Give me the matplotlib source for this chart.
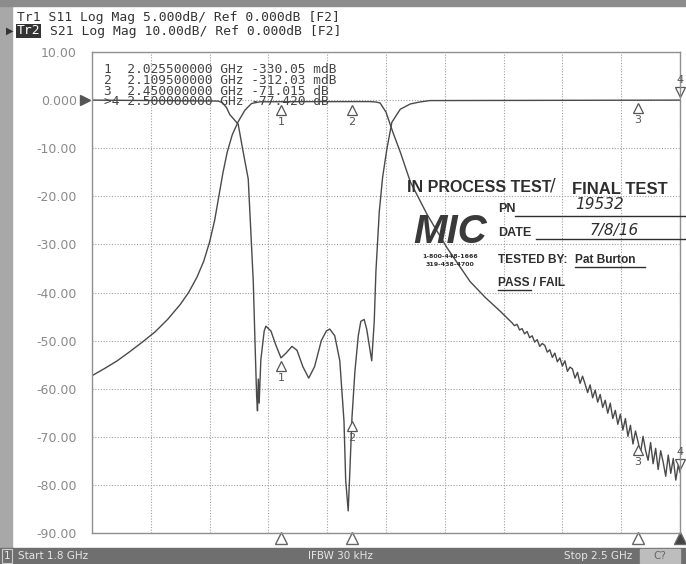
import numpy as np
import matplotlib.pyplot as plt
from matplotlib.patches import Rectangle
from matplotlib.transforms import offset_copy, blended_transform_factory

# S21 (Tr2, 10 dB/div) frequency in GHz, magnitude in dB
freq_s21 = [1.800, 1.815, 1.830, 1.845, 1.860, 1.875, 1.890, 1.905, 1.915, 1.925,
            1.933, 1.940, 1.946, 1.951, 1.956, 1.961, 1.967, 1.974, 1.982, 1.990,
            2.000, 2.060, 2.131, 2.138, 2.143, 2.150, 2.158, 2.167, 2.179, 2.199,
            2.223, 2.250, 2.268, 2.286,
            2.300, 2.303, 2.306, 2.309, 2.312, 2.315, 2.318, 2.321, 2.324, 2.327,
            2.330, 2.333, 2.336, 2.339, 2.342, 2.345, 2.348, 2.351, 2.354, 2.357,
            2.360, 2.363, 2.366, 2.369, 2.372, 2.375, 2.378, 2.381, 2.384, 2.387,
            2.390, 2.393, 2.396, 2.399, 2.402, 2.405, 2.408, 2.411, 2.414, 2.417,
            2.420, 2.423, 2.426, 2.429, 2.432, 2.435, 2.438, 2.441, 2.444, 2.447,
            2.450, 2.453, 2.456, 2.459, 2.462, 2.465, 2.468, 2.471, 2.474, 2.477,
            2.480, 2.483, 2.486, 2.489, 2.492, 2.495, 2.498, 2.500]
s21_db = [-57.3, -55.8, -54.2, -52.3, -50.3, -48.2, -45.6, -42.5, -40.0, -36.8,
          -33.5, -29.5, -25.0, -20.0, -15.0, -10.8, -7.2, -4.5, -2.1, -0.7,
          -0.35, -0.32, -0.31, -0.4, -0.6, -2.5, -6.6, -10.8, -17.0, -23.8,
          -30.8, -37.7, -41.0, -43.9,
          -46.3, -46.9, -46.6, -47.8, -47.5, -48.6, -48.1, -49.4, -49.0, -50.3,
          -49.8, -51.2, -50.6, -51.0, -52.4, -51.9, -53.5, -52.6, -54.4, -53.6,
          -55.3, -54.2, -56.4, -55.5, -55.9, -57.8, -56.6, -58.9, -57.4, -59.0,
          -60.8, -59.2, -61.9, -60.3, -62.8, -61.2, -63.9, -62.4, -65.1, -63.0,
          -66.2, -64.5, -67.4, -65.3, -68.6, -66.2, -69.9, -67.6, -71.5, -68.8,
          -71.0, -73.4, -69.9, -72.8, -74.9, -71.2, -75.6, -72.4, -76.8, -72.9,
          -75.3, -78.2, -73.8, -77.6, -74.5, -79.0, -75.8, -77.4]

# S11 (Tr1, 5 dB/div) frequency in GHz, magnitude in dB
freq_s11 = [1.800, 1.950, 1.955, 1.960, 1.964, 1.974, 1.980, 1.986, 1.989, 1.992,
            1.994, 1.996, 1.997, 1.998, 1.999, 2.001, 2.005, 2.007, 2.013, 2.019,
            2.025, 2.031, 2.038, 2.044, 2.051, 2.058, 2.065, 2.073, 2.079, 2.083,
            2.089, 2.095, 2.100, 2.102, 2.105, 2.107, 2.1095, 2.113, 2.117, 2.120,
            2.124, 2.127, 2.131, 2.133, 2.136, 2.138, 2.142, 2.146, 2.151, 2.157,
            2.167, 2.179, 2.190, 2.202, 2.500]
s11_db = [0.0, -0.1, -0.25, -0.75, -1.5, -2.5, -5.4, -8.2, -13.5, -18.9,
          -25.0, -30.8, -32.3, -29.0, -31.5, -27.0, -24.0, -23.5, -24.0, -25.5,
          -26.8, -26.3, -25.6, -26.0, -27.7, -28.9, -27.7, -25.0, -24.0, -23.8,
          -24.5, -27.1, -33.4, -39.5, -42.7, -38.5, -33.0, -28.2, -24.5, -23.0,
          -22.8, -23.8, -26.0, -27.1, -23.0, -17.8, -11.6, -8.0, -5.1, -2.3,
          -0.95, -0.4, -0.2, -0.05, 0.0]

marker_freq = [2.0255, 2.1095, 2.45, 2.5]
marker_s21 = [-0.33005, -0.31203, -71.015, -77.42]
marker_s11 = [-26.8, -33.0, 0.0, 0.0]
marker_rows = ["1  2.025500000 GHz -330.05 mdB",
               "2  2.109500000 GHz -312.03 mdB",
               "3  2.450000000 GHz -71.015 dB",
               ">4 2.500000000 GHz -77.420 dB"]

yticks = [10, 0, -10, -20, -30, -40, -50, -60, -70, -80, -90]
ytick_labels = ["10.00", "0.000", "-10.00", "-20.00", "-30.00", "-40.00",
                "-50.00", "-60.00", "-70.00", "-80.00", "-90.00"]

trace = "#4a4a4a"
W, H = 686, 564

fig = plt.figure(figsize=(6.86, 5.64), dpi=100)
ax = fig.add_axes([92 / W, 1 - 533 / H, 588 / W, 481 / H])

# S11 is on 5 dB/div, display it on the 10 dB/div graticule
s11_disp = np.array(s11_db) * 10.0 / 5.0
ax.plot(freq_s11, s11_disp, color=trace, lw=1.0)
ax.plot(freq_s21, s21_db, color=trace, lw=1.0)

ax.set_xlim(1.8, 2.5)
ax.set_ylim(-90, 10)
ax.set_xticks(np.linspace(1.8, 2.5, 11))
ax.set_xticklabels([])
ax.set_yticks(yticks)
ax.set_yticklabels(ytick_labels, fontsize=9, color="#8a8a8a")
ax.tick_params(length=0, pad=11)
ax.grid(True, color="#a0a0a0", ls=(0, (1, 1.5)), lw=0.8)
for s in ax.spines.values():
    s.set_color("#909090")
    s.set_linewidth(1.0)

# reference arrow at 0 dB
bt = blended_transform_factory(ax.transAxes, ax.transData)
ax.plot([-0.012], [0], marker=">", ms=7, color="#555555", transform=bt, clip_on=False)

# marker table (one block, tight line spacing like the analyzer screen)
fig.text(104 / W, 1 - 63 / H, "\n".join(marker_rows), family="DejaVu Sans Mono",
         fontsize=9.3, color="#444444", va="top", linespacing=0.78)

# trace markers
below = offset_copy(ax.transData, fig=fig, y=-6, units="points")
above = offset_copy(ax.transData, fig=fig, y=6, units="points")
for n, (f, a, b) in enumerate(zip(marker_freq, marker_s21, marker_s11)):
    for v in (a, b * 2):
        if n < 3:
            ax.plot([f], [v], marker="^", ms=7, mfc="white", mec="#555555",
                    mew=0.9, transform=below, clip_on=False)
            ax.annotate(str(n + 1), (f, v), xytext=(0, -11), textcoords="offset points",
                        ha="center", va="top", fontsize=8, color="#555555")
        else:
            ax.plot([f], [v], marker="v", ms=7, mfc="white", mec="#555555",
                    mew=0.9, transform=above, clip_on=False)
            ax.annotate(str(n + 1), (f, v), xytext=(0, 11), textcoords="offset points",
                        ha="center", va="bottom", fontsize=8, color="#555555")

# marker position triangles under the graticule
bx = blended_transform_factory(ax.transData, fig.transFigure)
for n, f in enumerate(marker_freq):
    ax.plot([f], [1 - 538 / H], marker="^", ms=9, transform=bx, clip_on=False,
            mfc="#444444" if n == 3 else "white", mec="#666666", mew=1.0)

# header
fig.text(17 / W, 1 - 17 / H, "Tr1 S11 Log Mag 5.000dB/ Ref 0.000dB [F2]",
         family="DejaVu Sans Mono", fontsize=9.4, color="#333333", va="center")
fig.text(17 / W, 1 - 31 / H, "Tr2", family="DejaVu Sans Mono", fontsize=9.4,
         color="white", va="center", bbox=dict(fc="#333333", ec="none", pad=0.5))
fig.text(50 / W, 1 - 31 / H, "S21 Log Mag 10.00dB/ Ref 0.000dB [F2]",
         family="DejaVu Sans Mono", fontsize=9.4, color="#333333", va="center")
fig.text(6 / W, 1 - 31 / H, "\u25b6", fontsize=7, color="#333333", va="center")

# frame of the screenshot
fig.patches.append(Rectangle((0, 0), 12 / W, 1, transform=fig.transFigure,
                             color="#a8a8a8", zorder=-1))
fig.patches.append(Rectangle((0, 1 - 6 / H), 1, 6 / H, transform=fig.transFigure,
                             color="#8c8c8c", zorder=-1))
fig.patches.append(Rectangle((0, 0), 1, 16 / H, transform=fig.transFigure,
                             color="#6f6f6f", zorder=-1))
fig.patches.append(Rectangle((640 / W, 1 / H), 40 / W, 14 / H, transform=fig.transFigure,
                             color="#bdbdbd", zorder=0))
fig.patches.append(Rectangle((2 / W, 1 / H), 10 / W, 14 / H, transform=fig.transFigure,
                             fc="none", ec="#cccccc", lw=0.8, zorder=0))
sb = dict(fontsize=7.5, color="#e6e6e6", va="center")
fig.text(4 / W, 8 / H, "1", **sb)
fig.text(18 / W, 8 / H, "Start 1.8 GHz", **sb)
fig.text(340 / W, 8 / H, "IFBW 30 kHz", ha="center", **sb)
fig.text(632 / W, 8 / H, "Stop 2.5 GHz", ha="right", **sb)
fig.text(660 / W, 8 / H, "C?", ha="center", fontsize=7.5, color="#666666", va="center")

# test stamp
sans = ["Liberation Sans", "DejaVu Sans"]
ink = "#2e2e2e"
fig.text(407 / W, 1 - 188 / H, "IN PROCESS TEST", family=sans, weight="bold",
         fontsize=11.5, color=ink, va="center")
fig.text(550 / W, 1 - 186 / H, "/", fontsize=12, color=ink, va="center")
fig.text(572 / W, 1 - 190 / H, "FINAL TEST", family=sans, weight="bold",
         fontsize=12, color=ink, va="center")
fig.text(498 / W, 1 - 209 / H, "PN", family=sans, weight="bold", fontsize=9,
         color=ink, va="center")
fig.add_artist(plt.Line2D([515 / W, 1], [1 - 216 / H, 1 - 216 / H], color=ink, lw=1.0))
fig.text(575 / W, 1 - 205 / H, "19532", fontsize=11, style="italic", color=ink,
         va="center", weight="light")
fig.text(498 / W, 1 - 233 / H, "DATE", family=sans, weight="bold", fontsize=9,
         color=ink, va="center")
fig.add_artist(plt.Line2D([536 / W, 1], [1 - 239 / H, 1 - 239 / H], color=ink, lw=1.0))
fig.text(590 / W, 1 - 230 / H, "7/8/16", fontsize=11, style="italic", color=ink,
         va="center", weight="light")
fig.text(498 / W, 1 - 260 / H, "TESTED BY:", family=sans, weight="bold",
         fontsize=8.6, color=ink, va="center")
fig.text(575 / W, 1 - 260 / H, "Pat Burton", family=sans, weight="bold",
         fontsize=8.6, color=ink, va="center")
fig.add_artist(plt.Line2D([575 / W, 645 / W], [1 - 267 / H, 1 - 267 / H], color=ink, lw=1.0))
fig.text(498 / W, 1 - 283 / H, "PASS / FAIL", family=sans, weight="bold",
         fontsize=8.6, color=ink, va="center")
fig.add_artist(plt.Line2D([498 / W, 531 / W], [1 - 290 / H, 1 - 290 / H], color=ink, lw=1.0))
fig.text(450 / W, 1 - 232 / H, "MIC", family=sans, weight="bold", style="italic",
         fontsize=29, color="#3a3a3a", va="center", ha="center")
fig.text(450 / W, 1 - 257 / H, "1-800-448-1666", fontsize=4.5, color=ink,
         va="center", ha="center", weight="bold")
fig.text(450 / W, 1 - 265 / H, "319-438-4700", fontsize=4.5, color=ink,
         va="center", ha="center", weight="bold")

fig.savefig("out.png", dpi=100)
